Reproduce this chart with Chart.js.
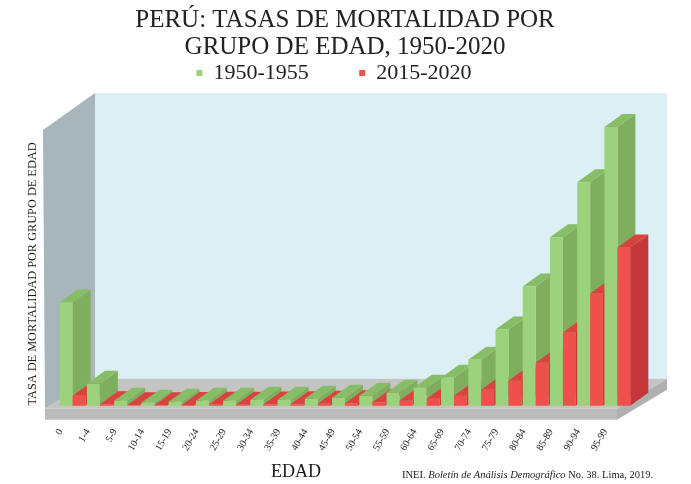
<!DOCTYPE html>
<html>
<head>
<meta charset="utf-8">
<script src="https://cdn.jsdelivr.net/npm/chart.js@4.4.1/dist/chart.umd.min.js"></script>
<style>
  html, body { margin: 0; padding: 0; background: #fff; }
  #wrap { width: 691px; height: 484px; }
</style>
</head>
<body>
<div id="wrap"><canvas id="grafico"></canvas></div>
<script>
const categorias = ['0', '1-4', '5-9', '10-14', '15-19', '20-24', '25-29', '30-34', '35-39', '40-44',
  '45-49', '50-54', '55-59', '60-64', '65-69', '70-74', '75-79', '80-84', '85-89', '90-94', '95-99'];
const tasas1950 = [103, 22, 5, 3, 4, 5, 5, 6, 6, 7, 8, 10, 13, 18, 28, 46, 76, 119, 168, 223, 278];
const tasas2015 = [10, 1.5, 0.5, 0.5, 0.8, 1, 1, 1.2, 1.5, 2, 2.5, 3.5, 5, 7, 10, 16, 25, 43, 73, 112, 158];
const series = ['1950-1955', '2015-2020'];

const serif = '"Liberation Serif", "Times New Roman", serif';
// front, side, top colours for each series
const caras = [
  { front: '#9dd27c', side: '#7fae5f', top: '#88bd68' },
  { front: '#f0504b', side: '#c4373b', top: '#d9433f' }
];
const prof = { x: 18, y: -13 };

function poly(ctx, pts, color) {
  ctx.beginPath();
  ctx.moveTo(pts[0][0], pts[0][1]);
  for (let k = 1; k < pts.length; k++) ctx.lineTo(pts[k][0], pts[k][1]);
  ctx.closePath();
  ctx.fillStyle = color;
  ctx.fill();
}

const barras3d = {
  id: 'barras3d',
  beforeDraw(chart) {
    const ctx = chart.ctx, a = chart.chartArea;
    const bl = a.left + 36, br = a.right + 36, bt = a.top - 1, bb = a.bottom - 27;
    const fl = a.left - 14, fr = a.right - 14, fb = a.bottom + 3;
    // back wall
    poly(ctx, [[bl, bt], [br, bt], [br, bb], [bl, bb]], '#dceff4');
    // left wall
    poly(ctx, [[bl, bt], [bl, bb], [fl, fb], [a.left - 16, a.top + 36]], '#a8b6bb');
    // floor
    poly(ctx, [[bl, bb], [br, bb], [fr, fb], [fl, fb]], '#c4c4c4');
    poly(ctx, [[fl, fb], [fr, fb], [fr, fb + 11], [fl, fb + 11]], '#bbbbbb');
    poly(ctx, [[fr, fb], [br, bb], [br, bb + 11], [fr, fb + 11]], '#b0b0b0');
  },
  beforeDatasetsDraw(chart) {
    const ctx = chart.ctx;
    const metas = chart.data.datasets.map((d, i) => chart.getDatasetMeta(i));
    categorias.forEach((c, i) => {
      metas.forEach((meta, d) => {
        const el = meta.data[i];
        const x0 = el.x - el.width / 2, x1 = el.x + el.width / 2;
        const top = el.y, base = el.base;
        const f = caras[d];
        poly(ctx, [[x1, top], [x1 + prof.x, top + prof.y], [x1 + prof.x, base + prof.y], [x1, base]], f.side);
        poly(ctx, [[x0, top], [x1, top], [x1 + prof.x, top + prof.y], [x0 + prof.x, top + prof.y]], f.top);
        poly(ctx, [[x0, top], [x1, top], [x1, base], [x0, base]], f.front);
      });
    });
    return false;
  },
  afterDraw(chart) {
    const ctx = chart.ctx;
    ctx.save();
    ctx.fillStyle = '#1a1a1a';
    ctx.textBaseline = 'middle';
    // y axis title
    ctx.save();
    ctx.translate(33, 274);
    ctx.rotate(-Math.PI / 2);
    ctx.textAlign = 'center';
    ctx.font = '12.3px ' + serif;
    ctx.fillText('TASA DE MORTALIDAD POR GRUPO DE EDAD', 0, 0);
    ctx.restore();
    // x axis title
    ctx.textAlign = 'center';
    ctx.font = '18px ' + serif;
    ctx.fillText('EDAD', 296, 472);
    // source
    ctx.textAlign = 'left';
    let x = 402;
    const partes = [['INEI. ', ''], ['Boletín de Análisis Demográfico', 'italic '], [' No. 38. Lima, 2019.', '']];
    partes.forEach(p => {
      ctx.font = p[1] + '10.5px ' + serif;
      ctx.fillText(p[0], x, 475);
      x += ctx.measureText(p[0]).width;
    });
    ctx.restore();
  }
};

new Chart(document.getElementById('grafico'), {
  type: 'bar',
  data: {
    labels: categorias,
    datasets: [
      { label: series[0], data: tasas1950, backgroundColor: caras[0].front, borderWidth: 0 },
      { label: series[1], data: tasas2015, backgroundColor: caras[1].front, borderWidth: 0 }
    ]
  },
  options: {
    responsive: true,
    maintainAspectRatio: false,
    animation: false,
    events: [],
    layout: { padding: { left: 59, right: 60, top: 0, bottom: 10 } },
    datasets: { bar: { categoryPercentage: 0.95, barPercentage: 1 } },
    scales: {
      x: {
        grid: { display: false, drawTicks: false, tickLength: 0 },
        border: { display: false },
        ticks: {
          minRotation: 60, maxRotation: 60, padding: 21, labelOffset: -12,
          color: '#222', font: { family: serif, size: 10 }
        }
      },
      y: { display: false, min: 0, max: 311 }
    },
    plugins: {
      tooltip: { enabled: false },
      title: {
        display: true,
        text: ['PERÚ: TASAS DE MORTALIDAD POR', 'GRUPO DE EDAD, 1950-2020'],
        color: '#222',
        font: { family: serif, size: 25, weight: 'normal', lineHeight: 1.08 },
        padding: { top: 7, bottom: 0 }
      },
      legend: {
        display: true,
        labels: {
          boxWidth: 6, boxHeight: 6, padding: 1, color: '#222',
          font: { family: serif, size: 22 },
          generateLabels(chart) {
            const items = Chart.defaults.plugins.legend.labels.generateLabels(chart);
            items[0].text += '\u00a0'.repeat(9);
            items[1].text += '\u00a0'.repeat(4);
            return items;
          }
        }
      }
    }
  },
  plugins: [barras3d]
});
</script>
</body>
</html>
